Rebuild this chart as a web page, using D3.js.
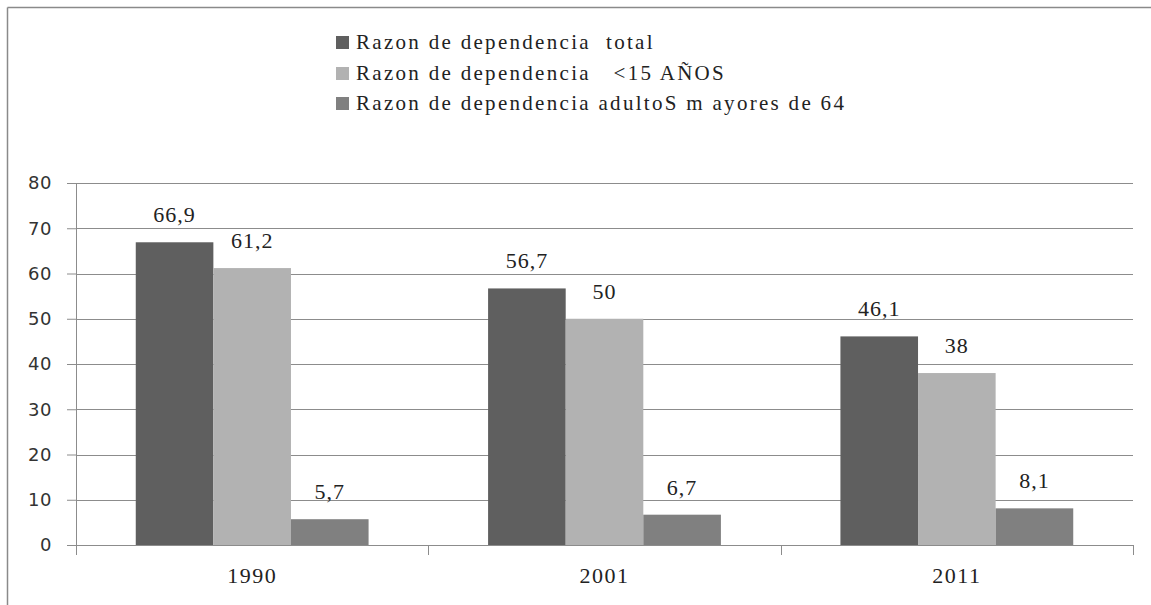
<!DOCTYPE html>
<html>
<head>
<meta charset="utf-8">
<script src="https://cdn.jsdelivr.net/npm/d3@7"></script>
<style>
  body { margin: 0; background: #fff; }
  .serif { font-family: "Liberation Serif", "Times New Roman", "DejaVu Serif", serif; }
  .sans { font-family: "DejaVu Sans", Verdana, sans-serif; }
</style>
</head>
<body>
<div id="chart"></div>
<script>
// data
var years = ["1990", "2001", "2011"];
var seriesNames = ["Razon de dependencia  total", "Razon de dependencia   <15 AÑOS", "Razon de dependencia adultoS m ayores de 64"];
var totalVals = [66.9, 56.7, 46.1];
var menoresVals = [61.2, 50, 38];
var mayoresVals = [5.7, 6.7, 8.1];
var valueLabels = [["66,9", "56,7", "46,1"], ["61,2", "50", "38"], ["5,7", "6,7", "8,1"]];
var yTicks = [0, 10, 20, 30, 40, 50, 60, 70, 80];
var colors = ["#5f5f5f", "#b2b2b2", "#808080"];

var W = 1151, H = 605;
var margin = {left: 76, right: 18, top: 183, bottom: 60};
var width = W - margin.left - margin.right;
var height = H - margin.top - margin.bottom;

var svg = d3.select("#chart").append("svg")
  .attr("width", W)
  .attr("height", H);

// outer frame (left + top only visible)
svg.append("line").attr("x1", 7.5).attr("x2", 7.5).attr("y1", 7.5).attr("y2", H)
  .attr("stroke", "#8a8a8a").attr("stroke-width", 1.5);
svg.append("line").attr("x1", 7.5).attr("x2", W).attr("y1", 7.5).attr("y2", 7.5)
  .attr("stroke", "#8a8a8a").attr("stroke-width", 1.5);

var g = svg.append("g")
  .attr("transform", "translate(" + margin.left + "," + margin.top + ")");

var x = d3.scaleBand().domain(years).range([0, width]).paddingInner(0).paddingOuter(0);
var y = d3.scaleLinear().domain([0, 80]).range([height, 0]);

// gridlines
g.selectAll(".grid").data(yTicks.slice(1)).enter().append("line")
  .attr("x1", 0).attr("x2", width)
  .attr("y1", function(d) { return Math.round(y(d)) + 0.5; })
  .attr("y2", function(d) { return Math.round(y(d)) + 0.5; })
  .attr("stroke", "#8c8c8c").attr("stroke-width", 1);

// y axis
var yAxis = g.append("g").attr("class", "y-axis")
  .call(d3.axisLeft(y).tickValues(yTicks).tickSize(9).tickPadding(15));
yAxis.selectAll("path, line").attr("stroke", "#8c8c8c");
yAxis.attr("font-family", null).attr("font-size", null);
yAxis.selectAll("text").attr("class", "sans").style("font-size", "18px")
  .style("letter-spacing", "0.5px").attr("fill", "#333");

// x axis
var xAxis = g.append("g").attr("class", "x-axis")
  .attr("transform", "translate(0," + height + ")")
  .call(d3.axisBottom(x).tickSize(0).tickSizeOuter(0).tickPadding(22));
xAxis.attr("font-family", null).attr("font-size", null);
xAxis.select("path").attr("stroke", "#8c8c8c");
xAxis.selectAll("text").attr("class", "serif").style("font-size", "22px")
  .style("letter-spacing", "1.5px").attr("fill", "#222");
// category separator ticks
var seps = [0, width / 3, 2 * width / 3, width];
g.selectAll(".sep").data(seps).enter().append("line")
  .attr("x1", function(d) { return Math.round(d) + 0.5; })
  .attr("x2", function(d) { return Math.round(d) + 0.5; })
  .attr("y1", height).attr("y2", height + 10)
  .attr("stroke", "#8c8c8c");

// bars
var inner = d3.scaleBand().domain([0, 1, 2]).range([0, x.bandwidth()]).paddingOuter(0.77).paddingInner(0);
var allVals = [totalVals, menoresVals, mayoresVals];

allVals.forEach(function(vals, s) {
  g.selectAll(".bar" + s).data(vals).enter().append("rect")
    .attr("x", function(d, i) { return x(years[i]) + inner(s); })
    .attr("y", function(d) { return y(d); })
    .attr("width", inner.bandwidth())
    .attr("height", function(d) { return height - y(d); })
    .attr("fill", colors[s]);

  g.selectAll(".lab" + s).data(vals).enter().append("text")
    .attr("class", "serif")
    .attr("x", function(d, i) { return x(years[i]) + inner(s) + inner.bandwidth() / 2; })
    .attr("y", function(d) { return y(d) - 20; })
    .attr("text-anchor", "middle")
    .style("font-size", "22px")
    .style("letter-spacing", "1px")
    .attr("fill", "#222")
    .text(function(d, i) { return valueLabels[s][i]; });
});

// legend
var legend = svg.append("g").attr("transform", "translate(336,0)");
var legY = [49, 80, 110];
seriesNames.forEach(function(name, s) {
  legend.append("rect")
    .attr("x", 0).attr("y", legY[s] - 13)
    .attr("width", 13).attr("height", 13)
    .attr("fill", colors[s]);
  legend.append("text")
    .attr("class", "serif")
    .attr("x", 20).attr("y", legY[s])
    .style("font-size", "21px")
    .style("letter-spacing", "2.3px")
    .style("white-space", "pre")
    .attr("fill", "#222")
    .text(name);
});
</script>
</body>
</html>
